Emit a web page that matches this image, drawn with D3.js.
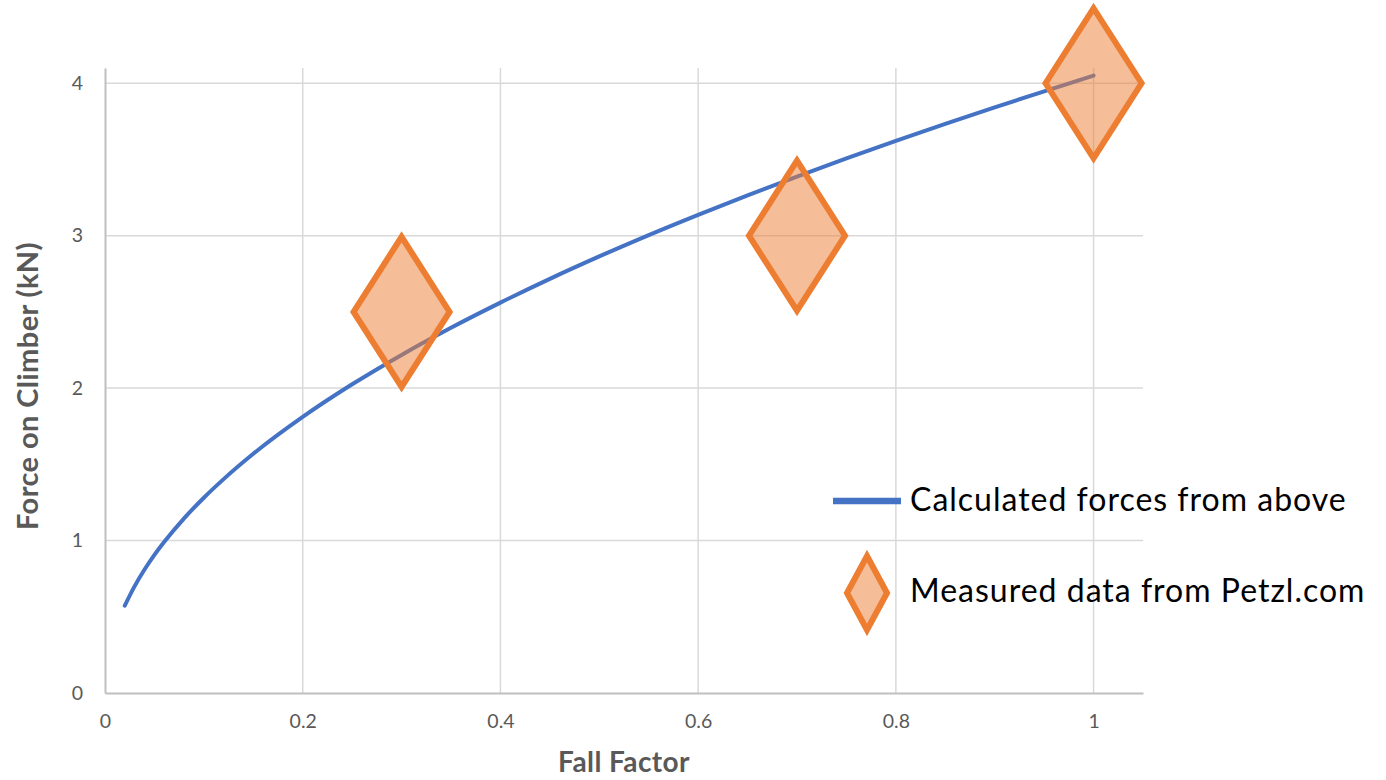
<!DOCTYPE html>
<html>
<head>
<meta charset="utf-8">
<script src="https://cdn.jsdelivr.net/npm/d3@7/dist/d3.min.js"></script>
<style>
  html, body { margin: 0; padding: 0; background: #fff; }
  svg { display: block; }
</style>
</head>
<body>
<svg id="chart" width="1386" height="780"></svg>
<script>
// ---- data ----
const curveX = [0.02, 0.03, 0.04, 0.05, 0.06, 0.08, 0.10, 0.12, 0.15, 0.20, 0.25, 0.30, 0.35, 0.40, 0.45, 0.50, 0.55, 0.60, 0.65, 0.70, 0.75, 0.80, 0.85, 0.90, 0.95, 1.00];
const curveY = [0.573, 0.701, 0.810, 0.906, 0.992, 1.146, 1.281, 1.403, 1.569, 1.811, 2.025, 2.218, 2.396, 2.561, 2.717, 2.864, 3.004, 3.137, 3.265, 3.388, 3.507, 3.622, 3.734, 3.842, 3.947, 4.050];
const measuredX = [0.3, 0.7, 1.0];
const measuredY = [2.5, 3.0, 4.0];
const xTicks = [0, 0.2, 0.4, 0.6, 0.8, 1];
const yTicks = [0, 1, 2, 3, 4];
const seriesNames = ["Calculated forces from above", "Measured data from Petzl.com"];
const xTitle = "Fall Factor";
const yTitle = "Force on Climber (kN)";

// ---- layout ----
const svg = d3.select("#chart");
const L = 105, R = 1143, T = 68, B = 693;
const FONT = "Lato, 'Open Sans', sans-serif";
const x = d3.scaleLinear().domain([0, 1.05]).range([L, R]);
const y = d3.scaleLinear().domain([0, 4.1]).range([B, T]);

// gridlines
svg.append("g").selectAll("line").data(yTicks.filter(d => d > 0)).join("line")
  .attr("x1", L).attr("x2", R).attr("y1", d => y(d)).attr("y2", d => y(d))
  .attr("stroke", "#D9D9D9").attr("stroke-width", 1.5);
svg.append("g").selectAll("line").data(xTicks.filter(d => d > 0)).join("line")
  .attr("y1", T).attr("y2", B).attr("x1", d => x(d)).attr("x2", d => x(d))
  .attr("stroke", "#D9D9D9").attr("stroke-width", 1.5);

// axes
const xAxis = d3.axisBottom(x).tickValues(xTicks).tickSize(0).tickPadding(21).tickFormat(d => d3.format("~g")(d));
const gx = svg.append("g").attr("transform", `translate(0,${B})`).call(xAxis);
gx.select(".domain").attr("stroke", "#BFBFBF").attr("stroke-width", 2);
gx.selectAll("text").attr("fill", "#595959").style("font-family", FONT).style("font-size", "19.5px");

const yAxis = d3.axisLeft(y).tickValues(yTicks).tickSize(0).tickPadding(22).tickFormat(d3.format("d"));
const gy = svg.append("g").attr("transform", `translate(${L},0)`).call(yAxis);
gy.select(".domain").attr("stroke", "#BFBFBF").attr("stroke-width", 2);
gy.selectAll("text").attr("fill", "#595959").style("font-family", FONT).style("font-size", "19.5px");

// axis titles
svg.append("text").attr("x", 624).attr("y", 772).attr("text-anchor", "middle")
  .attr("fill", "#595959").style("font-family", FONT).style("font-weight", "bold").style("font-size", "28px")
  .style("letter-spacing", "0.4px")
  .text(xTitle);
svg.append("text").attr("transform", `translate(38,386) rotate(-90)`).attr("text-anchor", "middle")
  .attr("fill", "#595959").style("font-family", FONT).style("font-weight", "bold").style("font-size", "29px")
  .style("letter-spacing", "0.4px")
  .text(yTitle);

// curve
const curveData = curveX.map((v, i) => [v, curveY[i]]);
svg.append("path").datum(curveData)
  .attr("d", d3.line().x(d => x(d[0])).y(d => y(d[1])).curve(d3.curveMonotoneX))
  .attr("fill", "none").attr("stroke", "#4472C4").attr("stroke-width", 4).attr("stroke-linecap", "round");

// diamonds
const diamond = (hw, hh) => `M0,${-hh}L${hw},0L0,${hh}L${-hw},0Z`;
svg.append("g").selectAll("path").data(measuredX.map((v, i) => [v, measuredY[i]])).join("path")
  .attr("transform", d => `translate(${x(d[0])},${y(d[1])})`)
  .attr("d", diamond(48, 75))
  .attr("fill", "#ED7D31").attr("fill-opacity", 0.5)
  .attr("stroke", "#ED7D31").attr("stroke-width", 6).attr("stroke-linejoin", "miter");

// legend
const lg = svg.append("g");
lg.append("line").attr("x1", 833).attr("x2", 901).attr("y1", 501).attr("y2", 501)
  .attr("stroke", "#4472C4").attr("stroke-width", 6.5);
lg.append("text").attr("x", 910).attr("y", 511).attr("fill", "#000")
  .style("font-family", FONT).style("font-size", "32px").style("letter-spacing", "1px").text(seriesNames[0]);
lg.append("path").attr("transform", "translate(867,593)").attr("d", diamond(20, 37))
  .attr("fill", "#ED7D31").attr("fill-opacity", 0.5)
  .attr("stroke", "#ED7D31").attr("stroke-width", 6);
lg.append("text").attr("x", 910).attr("y", 602).attr("fill", "#000")
  .style("font-family", FONT).style("font-size", "32px").style("letter-spacing", "1px").text(seriesNames[1]);
</script>
</body>
</html>
